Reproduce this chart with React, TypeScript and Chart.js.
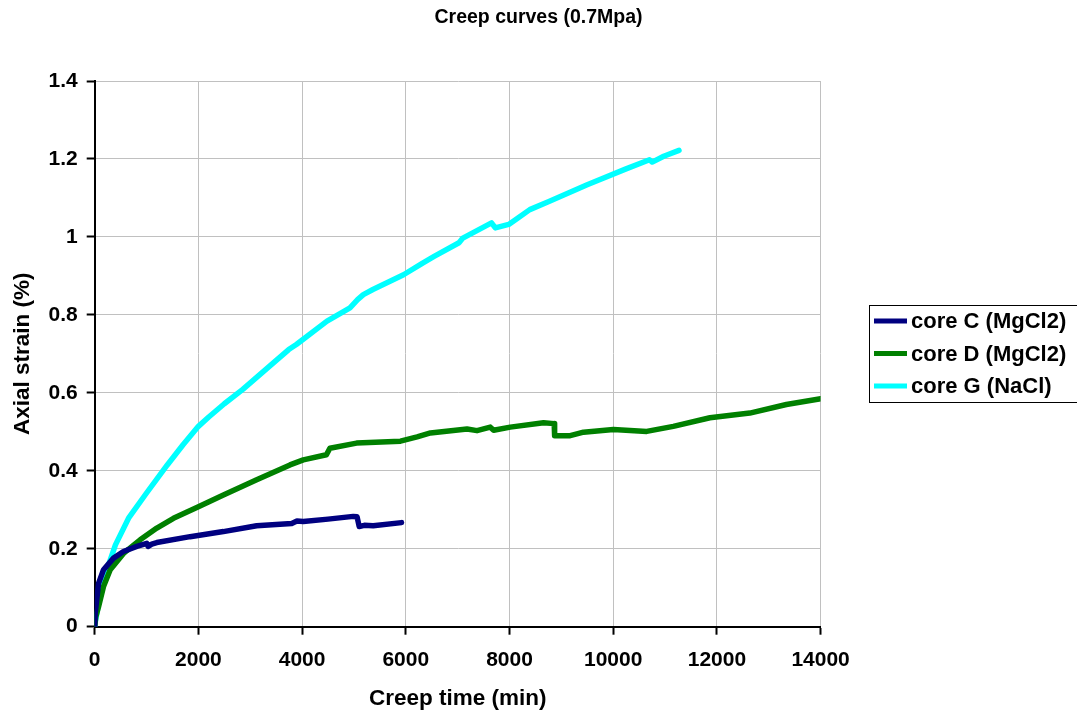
import React, { useEffect, useRef } from "react";
import { Chart, registerables } from "chart.js";

Chart.register(...registerables);

const chartTitle = "Creep curves (0.7Mpa)";
const xAxisTitle = "Creep time (min)";
const yAxisTitle = "Axial strain (%)";

const seriesNames = ["core C (MgCl2)", "core D (MgCl2)", "core G (NaCl)"];
const seriesColors = ["#000080", "#008000", "#00FFFF"];

// core C (MgCl2)
const coreCTime = [0, 10, 40, 74, 170, 363, 555, 812, 1005, 1030, 1100, 1198, 1840, 2482, 3124, 3800, 3900, 4023, 4500, 4986, 5060, 5101, 5200, 5371, 5917];
const coreCStrain = [0, 0.035, 0.07, 0.111, 0.146, 0.176, 0.193, 0.206, 0.214, 0.206, 0.212, 0.216, 0.231, 0.244, 0.259, 0.265, 0.271, 0.270, 0.276, 0.283, 0.282, 0.257, 0.260, 0.259, 0.267];

// core D (MgCl2)
const coreDTime = [0, 20, 74, 170, 299, 555, 877, 1198, 1519, 2000, 2482, 3124, 3766, 4023, 4469, 4536, 5050, 5897, 6218, 6475, 7181, 7373, 7630, 7694, 8015, 8656, 8862, 8870, 9170, 9427, 10004, 10646, 11159, 11865, 12635, 13340, 14000];
const coreDStrain = [0, 0.025, 0.051, 0.103, 0.146, 0.188, 0.223, 0.253, 0.278, 0.308, 0.338, 0.377, 0.415, 0.428, 0.441, 0.458, 0.471, 0.476, 0.487, 0.497, 0.507, 0.503, 0.512, 0.504, 0.512, 0.523, 0.521, 0.490, 0.490, 0.499, 0.506, 0.501, 0.514, 0.536, 0.548, 0.570, 0.585];

// core G (NaCl)
const coreGTime = [0, 15, 42, 106, 234, 400, 660, 1000, 1400, 1700, 2000, 2200, 2500, 2856, 3446, 3742, 3889, 4480, 4923, 5070, 5181, 5365, 5956, 6325, 6546, 7026, 7100, 7653, 7727, 7985, 8170, 8391, 8760, 9498, 10236, 10700, 10753, 10974, 11269];
const coreGStrain = [0, 0.015, 0.034, 0.086, 0.146, 0.21, 0.28, 0.343, 0.415, 0.466, 0.514, 0.538, 0.572, 0.609, 0.677, 0.711, 0.724, 0.784, 0.818, 0.839, 0.852, 0.865, 0.903, 0.933, 0.950, 0.985, 0.997, 1.036, 1.023, 1.032, 1.049, 1.070, 1.091, 1.134, 1.174, 1.198, 1.192, 1.207, 1.222];

const xMax = 14000;
const xStep = 2000;
const yMax = 1.4;
const yStep = 0.2;

const FONT = "'Liberation Sans', Arial, Helvetica, sans-serif";

const toPoints = (xs: number[], ys: number[]) => xs.map((x, i) => ({ x, y: ys[i] }));

const decorations = {
  id: "decorations",
  afterDraw(chart: any) {
    const ctx = chart.ctx;
    ctx.save();
    // chart title, centred on the whole canvas
    ctx.fillStyle = "#000000";
    ctx.font = `bold 19.5px ${FONT}`;
    ctx.textAlign = "center";
    ctx.textBaseline = "middle";
    ctx.fillText(chartTitle, chart.width / 2, 18);

    // boxed legend
    const left = 869.5;
    const top = 305.5;
    const width = 220;
    const height = 97;
    ctx.fillStyle = "#ffffff";
    ctx.fillRect(left, top, width, height);
    ctx.strokeStyle = "#000000";
    ctx.lineWidth = 1;
    ctx.strokeRect(left, top, width, height);
    const rowY = [321, 353.5, 386];
    chart.data.datasets.forEach((ds: any, i: number) => {
      ctx.strokeStyle = ds.borderColor;
      ctx.lineWidth = 5;
      ctx.lineCap = "butt";
      ctx.beginPath();
      ctx.moveTo(874, rowY[i]);
      ctx.lineTo(907, rowY[i]);
      ctx.stroke();
      ctx.fillStyle = "#000000";
      ctx.font = `bold 22px ${FONT}`;
      ctx.textAlign = "left";
      ctx.textBaseline = "middle";
      ctx.fillText(ds.label, 911, rowY[i] + 1);
    });
    ctx.restore();
  },
};

export default function App() {
  const canvasRef = useRef<HTMLCanvasElement | null>(null);

  useEffect(() => {
    if (!canvasRef.current) return;
    const chart = new Chart(canvasRef.current, {
      type: "line",
      data: {
        datasets: [
          { label: seriesNames[0], data: toPoints(coreCTime, coreCStrain), borderColor: seriesColors[0], backgroundColor: seriesColors[0] },
          { label: seriesNames[1], data: toPoints(coreDTime, coreDStrain), borderColor: seriesColors[1], backgroundColor: seriesColors[1] },
          { label: seriesNames[2], data: toPoints(coreGTime, coreGStrain), borderColor: seriesColors[2], backgroundColor: seriesColors[2] },
        ],
      },
      options: {
        responsive: false,
        animation: false,
        events: [],
        layout: { padding: { left: 0, right: 256.4, top: 81, bottom: 0 } },
        elements: {
          point: { radius: 0 },
          line: { borderWidth: 5.5, tension: 0, borderJoinStyle: "round", borderCapStyle: "round" },
        },
        plugins: {
          legend: { display: false },
          tooltip: { enabled: false },
          title: { display: false },
        },
        scales: {
          x: {
            type: "linear",
            min: 0,
            max: xMax,
            ticks: {
              stepSize: xStep,
              color: "#000000",
              font: { family: FONT, size: 21, weight: "bold" },
              padding: 13,
              maxRotation: 0,
              callback: (v: any) => String(v),
            },
            grid: { color: "#c0c0c0", lineWidth: 1, tickColor: "#000000", tickWidth: 2, tickLength: 8 },
            border: { color: "#000000", width: 2 },
            title: {
              display: true,
              text: xAxisTitle,
              color: "#000000",
              font: { family: FONT, size: 22.5, weight: "bold" },
              padding: { top: 0, bottom: 3 },
            },
            afterFit: (scale: any) => {
              scale.height = 88.3;
            },
          },
          y: {
            type: "linear",
            min: 0,
            max: yMax,
            ticks: {
              stepSize: yStep,
              color: "#000000",
              font: { family: FONT, size: 21, weight: "bold" },
              padding: 9,
              callback: (v: any) => String(Math.round(v * 10) / 10),
            },
            grid: { color: "#c0c0c0", lineWidth: 1, tickColor: "#000000", tickWidth: 2, tickLength: 8 },
            border: { color: "#000000", width: 2 },
            title: {
              display: true,
              text: yAxisTitle,
              color: "#000000",
              font: { family: FONT, size: 22.5, weight: "bold" },
              padding: { top: 9, bottom: 0 },
            },
            afterFit: (scale: any) => {
              scale.width = 94.7;
            },
          },
        },
      },
      plugins: [decorations],
    } as any);
    return () => chart.destroy();
  }, []);

  return (
    <div style={{ position: "fixed", left: 0, top: 0, width: 1077, height: 715, background: "#ffffff" }}>
      <canvas ref={canvasRef} width={1077} height={715} style={{ display: "block" }} />
    </div>
  );
}
